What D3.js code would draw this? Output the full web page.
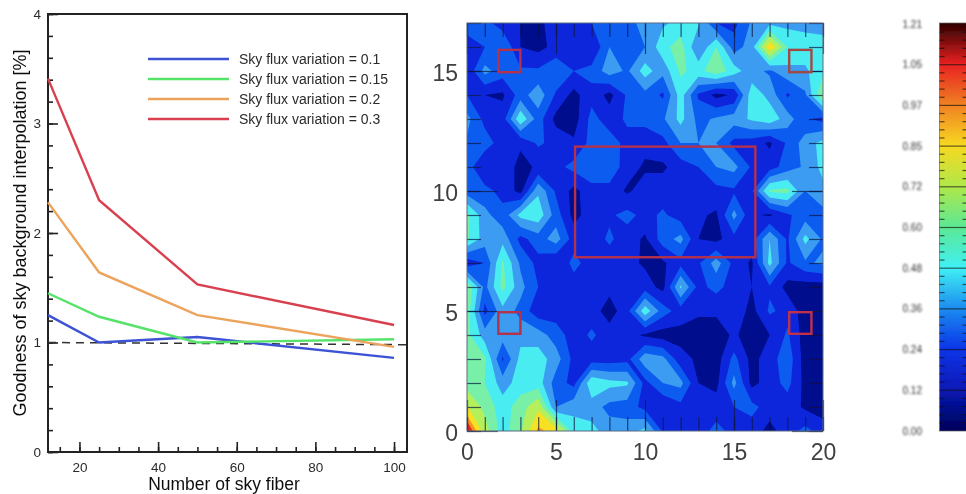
<!DOCTYPE html>
<html>
<head>
<meta charset="utf-8">
<script src="https://cdn.jsdelivr.net/npm/d3@7"></script>
<style>
  html, body { margin: 0; padding: 0; background: #fff; overflow: hidden; }
  svg { display: block; }
  text { font-family: "Liberation Sans", Arial, sans-serif; }
</style>
</head>
<body>
<div id="chart"></div>
<script>
// left panel values
var fiberCounts = [12, 25, 50, 100];
var flux010 = [1.25, 1.00, 1.05, 0.86];
var flux015 = [1.45, 1.235, 1.00, 1.03];
var flux020 = [2.28, 1.64, 1.25, 0.96];
var flux030 = [3.41, 2.30, 1.53, 1.16];
var legendLabels = ["Sky flux variation = 0.1", "Sky flux variation = 0.15", "Sky flux variation = 0.2", "Sky flux variation = 0.3"];
var lineColors = ["#3c52d4", "#55e36a", "#eca35c", "#d9414f"];
var referenceX = [12, 103.3];
var referenceY = [1.0, 0.98];

// map values, top row (y = 17) first, columns x = 0..20
var skyMap = [
  [.30,.28,.18,.12,.10,.16,.20,.24,.28,.34,.38,.46,.52,.50,.24,.20,.38,.44,.44,.44,.40],
  [.18,.24,.36,.12,.08,.16,.20,.12,.36,.30,.36,.56,.66,.36,.60,.30,.42,.96,.60,.54,.56],
  [.14,.40,.30,.26,.26,.34,.24,.28,.42,.34,.54,.40,.62,.56,.68,.54,.40,.34,.44,.46,.56],
  [.24,.12,.10,.30,.44,.22,.08,.20,.08,.26,.32,.22,.54,.22,.08,.14,.56,.44,.22,.34,.74],
  [.40,.20,.18,.58,.30,.08,.06,.28,.18,.26,.28,.34,.52,.32,.38,.42,.50,.56,.42,.26,.20],
  [.34,.30,.18,.14,.26,.20,.14,.28,.30,.20,.16,.20,.36,.36,.36,.20,.18,.10,.26,.42,.52],
  [.30,.12,.20,.08,.14,.20,.28,.32,.32,.18,.10,.10,.18,.24,.36,.40,.22,.18,.30,.38,.52],
  [.30,.28,.20,.08,.46,.22,.08,.20,.20,.10,.18,.18,.16,.14,.20,.22,.22,.62,.64,.36,.44],
  [.64,.40,.28,.52,.56,.30,.08,.18,.22,.28,.20,.26,.18,.14,.10,.40,.14,.10,.22,.30,.32],
  [.62,.42,.44,.20,.30,.42,.18,.18,.26,.18,.10,.30,.40,.12,.08,.20,.18,.48,.22,.52,.34],
  [.16,.24,.62,.34,.20,.12,.28,.18,.18,.16,.10,.10,.20,.22,.42,.20,.10,.52,.22,.34,.38],
  [.72,.32,.64,.40,.24,.18,.18,.18,.16,.16,.18,.08,.50,.20,.28,.18,.12,.22,.08,.06,.06],
  [.68,.20,.44,.32,.16,.18,.14,.18,.06,.20,.56,.30,.18,.14,.14,.20,.08,.26,.20,.06,.06],
  [.64,.42,.42,.44,.42,.30,.18,.26,.18,.16,.10,.06,.08,.06,.06,.14,.06,.12,.26,.06,.06],
  [.64,.62,.22,.52,.54,.42,.20,.18,.18,.20,.44,.40,.16,.10,.06,.28,.08,.18,.32,.06,.06],
  [.66,.60,.42,.54,.54,.30,.20,.58,.52,.50,.20,.36,.40,.12,.08,.40,.08,.18,.28,.08,.06],
  [.86,.68,.54,.66,.82,.36,.44,.42,.32,.30,.20,.12,.20,.18,.18,.24,.28,.18,.18,.10,.06],
  [1.18,.78,.54,.70,1.0,.92,.54,.52,.42,.42,.52,.22,.12,.18,.28,.20,.18,.08,.18,.28,.18]
];
var levels = [0, .12, .24, .36, .48, .60, .72, .85, .97, 1.05];
var levelColors = ["#020a8c", "#0a28dc", "#0a5cf0", "#3a9cf2", "#48ecf0", "#78f0a8", "#b4f05c", "#f8e020", "#f89020", "#e82818"];
var boxX0 = [1.76, 18.1, 1.76, 18.1, 6.07];
var boxX1 = [3.0, 19.35, 3.0, 19.35, 16.2];
var boxY0 = [14.95, 14.95, 4.05, 4.05, 7.24];
var boxY1 = [15.88, 15.88, 4.95, 4.95, 11.85];
var boxColors = ["#b5304c", "#a24a44", "#b5304c", "#c0304c", "#b5304c"];

// colour bar
var barLabels = ["0.00", "0.12", "0.24", "0.36", "0.48", "0.60", "0.72", "0.85", "0.97", "1.05", "1.21"];
var barColors = ["#000058", "#0818b4", "#0834e8", "#1c8cf0", "#40f0f4", "#5ce894", "#b0e848", "#f8d820", "#f08020", "#e82020", "#2c0000"];

var svg = d3.select("#chart").append("svg")
    .attr("width", 966)
    .attr("height", 494);

var defs = svg.append("defs");
defs.append("filter").attr("id", "soft").attr("x", "-5%").attr("y", "-5%").attr("width", "110%").attr("height", "110%")
    .append("feGaussianBlur").attr("stdDeviation", 0.7);
defs.append("filter").attr("id", "softer").attr("x", "-5%").attr("y", "-5%").attr("width", "110%").attr("height", "110%")
    .append("feGaussianBlur").attr("stdDeviation", 0.9);
defs.append("clipPath").attr("id", "mapClip").append("rect")
    .attr("x", 467).attr("y", 23).attr("width", 356).attr("height", 408);

// ---- left line chart
var left = svg.append("g").attr("filter", "url(#soft)");

var x = d3.scaleLinear().domain([12, 103.3]).range([48, 407]);
var y = d3.scaleLinear().domain([0, 4]).range([452, 14]);

left.append("rect")
    .attr("x", 48).attr("y", 14).attr("width", 359).attr("height", 438)
    .attr("fill", "none").attr("stroke", "#222").attr("stroke-width", 2);

var xMinor = d3.axisBottom(x).tickValues(d3.range(15, 101, 5)).tickSize(-5).tickFormat("");
var xMajor = d3.axisBottom(x).tickValues(d3.range(20, 101, 20)).tickSize(-10).tickPadding(10);
var yMinor = d3.axisLeft(y).tickValues(d3.range(0, 4.01, 0.2)).tickSize(-5).tickFormat("");
var yMajor = d3.axisLeft(y).tickValues([0, 1, 2, 3, 4]).tickSize(-10).tickPadding(7).tickFormat(d3.format("d"));

[xMinor, xMajor].forEach(function(a) {
  left.append("g").attr("transform", "translate(0,452)").call(a);
});
[yMinor, yMajor].forEach(function(a) {
  left.append("g").attr("transform", "translate(48,0)").call(a);
});
left.selectAll(".domain").remove();
left.selectAll(".tick line").attr("stroke", "#222").attr("stroke-width", 1.6);
left.selectAll(".tick text").style("font-size", "13.5px").attr("fill", "#2a2a2a");

var line = d3.line()
    .x(function(d) { return x(d[0]); })
    .y(function(d) { return y(d[1]); });

left.append("path")
    .attr("d", line(d3.zip(referenceX, referenceY)))
    .attr("fill", "none")
    .attr("stroke", "#333")
    .attr("stroke-width", 1.5)
    .attr("stroke-dasharray", "8,6");

[flux010, flux015, flux020, flux030].forEach(function(vals, i) {
  left.append("path")
      .attr("d", line(d3.zip(fiberCounts, vals)))
      .attr("fill", "none")
      .attr("stroke", lineColors[i])
      .attr("stroke-width", 2.4);
});

var legendY = d3.scalePoint().domain(legendLabels).range([59, 119]);
legendLabels.forEach(function(t, i) {
  left.append("line")
      .attr("x1", 148).attr("x2", 229)
      .attr("y1", legendY(t)).attr("y2", legendY(t))
      .attr("stroke", lineColors[i]).attr("stroke-width", 2.4);
  left.append("text")
      .attr("x", 239).attr("y", legendY(t))
      .attr("dy", "0.35em")
      .style("font-size", "14px")
      .attr("fill", "#2a2a2a")
      .text(t);
});

left.append("text")
    .attr("x", 224).attr("y", 489.5)
    .attr("text-anchor", "middle")
    .style("font-size", "17.5px")
    .attr("fill", "#111")
    .text("Number of sky fiber");

left.append("text")
    .attr("transform", "translate(26,233)rotate(-90)")
    .attr("text-anchor", "middle")
    .style("font-size", "18px")
    .attr("fill", "#111")
    .text("Goodness of sky background interpolation [%]");

// ---- contour map
var map = svg.append("g").attr("filter", "url(#soft)");

var hx = d3.scaleLinear().domain([0, 20]).range([467, 823]);
var hy = d3.scaleLinear().domain([0, 17]).range([431, 23]);

var contours = d3.contours()
    .size([21, 18])
    .thresholds(levels)(d3.merge(skyMap));

// grid node i sits at contour coordinate i + 0.5
var project = d3.geoTransform({
  point: function(cx, cy) {
    this.stream.point(hx(cx - 0.5), hy(17 - (cy - 0.5)));
  }
});

map.append("g")
    .attr("clip-path", "url(#mapClip)")
    .selectAll("path")
    .data(contours)
    .enter()
    .append("path")
      .attr("d", d3.geoPath(project))
      .attr("fill", function(d, i) { return levelColors[i]; });

var mapAxes = [
  [d3.axisBottom(hx), "translate(0,431)", d3.range(0, 21), -14],
  [d3.axisBottom(hx), "translate(0,431)", d3.range(0, 21, 5), -31],
  [d3.axisTop(hx), "translate(0,23)", d3.range(0, 21), -14],
  [d3.axisTop(hx), "translate(0,23)", d3.range(0, 21, 5), -31],
  [d3.axisLeft(hy), "translate(467,0)", d3.range(0, 18), -14],
  [d3.axisLeft(hy), "translate(467,0)", d3.range(0, 16, 5), -31],
  [d3.axisRight(hy), "translate(823,0)", d3.range(0, 18), -14],
  [d3.axisRight(hy), "translate(823,0)", d3.range(0, 16, 5), -31]
];
mapAxes.forEach(function(a) {
  map.append("g")
      .attr("transform", a[1])
      .call(a[0].tickValues(a[2]).tickSize(a[3]).tickFormat(""));
});
map.selectAll(".domain").remove();
map.selectAll(".tick line").attr("stroke", "#0a1440").attr("stroke-opacity", 0.7).attr("stroke-width", 1.2);

map.append("rect")
    .attr("x", 467).attr("y", 23).attr("width", 356).attr("height", 408)
    .attr("fill", "none").attr("stroke", "#5a6a80").attr("stroke-width", 1);

boxX0.forEach(function(b, i) {
  map.append("rect")
      .attr("x", hx(boxX0[i]))
      .attr("y", hy(boxY1[i]))
      .attr("width", hx(boxX1[i]) - hx(boxX0[i]))
      .attr("height", hy(boxY0[i]) - hy(boxY1[i]))
      .attr("fill", "none")
      .attr("stroke", boxColors[i])
      .attr("stroke-width", 2.4);
});

var mapLabelX = d3.axisBottom(hx).tickValues(d3.range(0, 21, 5)).tickSize(0).tickPadding(13);
var mapLabelY = d3.axisLeft(hy).tickValues(d3.range(0, 16, 5)).tickSize(0).tickPadding(9);
var mapText = svg.append("g").attr("filter", "url(#soft)");
mapText.append("g").attr("transform", "translate(0,431)").call(mapLabelX);
mapText.append("g").attr("transform", "translate(467,2.5)").call(mapLabelY);
mapText.selectAll(".domain").remove();
mapText.selectAll(".tick text").style("font-size", "23px").attr("fill", "#404040");

// ---- colour bar
var bar = svg.append("g").attr("filter", "url(#soft)");
var barScale = d3.scalePoint().domain(barLabels).range([431, 24]);
var grad = defs.append("linearGradient").attr("id", "barGrad")
    .attr("x1", 0).attr("x2", 0).attr("y1", 1).attr("y2", 0);
barColors.forEach(function(c, i) {
  grad.append("stop").attr("offset", i / (barColors.length - 1)).attr("stop-color", c);
});
bar.append("rect")
    .attr("x", 939.5).attr("y", 23).attr("width", 30).attr("height", 408)
    .attr("fill", "url(#barGrad)")
    .attr("stroke", "#666").attr("stroke-width", 0.7);

var step = barScale.step();
var minorTicks = [];
barLabels.slice(0, -1).forEach(function(t) {
  [1, 2, 3, 4].forEach(function(k) { minorTicks.push(barScale(t) - k * step / 5); });
});
var sideX = [939.5, 962.5];
sideX.forEach(function(sx) {
  bar.selectAll(null)
      .data(minorTicks)
      .enter()
      .append("line")
        .attr("x1", sx).attr("x2", sx + 5)
        .attr("y1", function(d) { return d; })
        .attr("y2", function(d) { return d; })
        .attr("stroke", "#101010").attr("stroke-opacity", 0.65).attr("stroke-width", 1.2);
});
bar.selectAll(null)
    .data(barLabels.slice(1, -1))
    .enter()
    .append("line")
      .attr("x1", 939.5).attr("x2", 966)
      .attr("y1", function(d) { return barScale(d); })
      .attr("y2", function(d) { return barScale(d); })
      .attr("stroke", "#101010").attr("stroke-opacity", 0.65).attr("stroke-width", 1.2);

svg.append("g").attr("filter", "url(#softer)")
    .selectAll("text")
    .data(barLabels)
    .enter()
    .append("text")
      .attr("x", 922)
      .attr("y", function(d) { return barScale(d); })
      .attr("dy", "0.35em")
      .attr("text-anchor", "end")
      .style("font-size", "10px")
      .attr("fill", "#333")
      .text(function(d) { return d; });
</script>
</body>
</html>
